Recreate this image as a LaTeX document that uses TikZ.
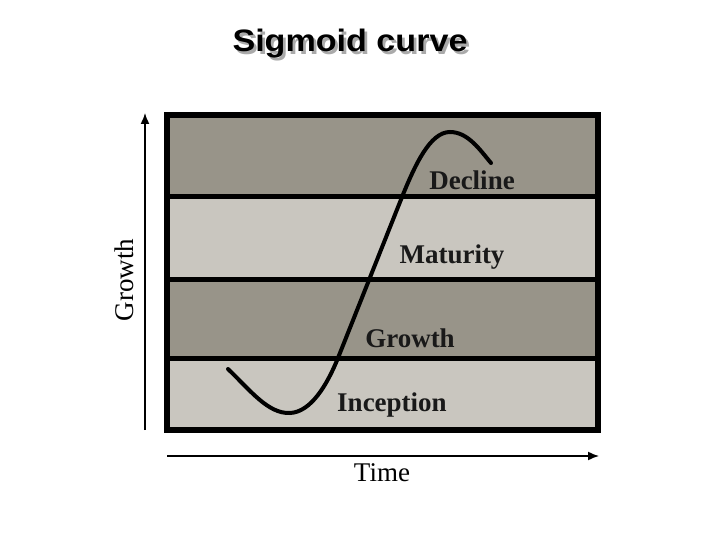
\documentclass[tikz,border=0pt]{standalone}
\usepackage{fontspec}
\setmainfont{Liberation Serif}
\newfontfamily\titlefont{Liberation Sans}
\usetikzlibrary{arrows.meta}
\definecolor{banddark}{RGB}{152,148,137}
\definecolor{bandlight}{RGB}{201,198,191}
\definecolor{shadowgray}{RGB}{170,170,170}
\newcommand{\shadowtext}[1]{\rlap{\hspace{2.5pt}\raisebox{-2.5pt}{\textcolor{shadowgray}{#1}}}#1}
\tikzset{
  axisarrow/.style={line width=1.5pt,-{Latex[length=11pt,width=9pt]}},
  bandlabel/.style={font=\fontsize{27}{29}\selectfont\bfseries, text=black!90, inner sep=0pt},
  axislabel/.style={font=\fontsize{27}{29}\selectfont, inner sep=0pt},
}
\begin{document}
\begin{tikzpicture}[x=1pt,y=-1pt]
\useasboundingbox (0,0) rectangle (720,540);
% title with shadow
\node (title) [font=\titlefont\fontsize{31}{33}\selectfont\bfseries, xscale=1.1, inner sep=0pt] at (350,45) {\shadowtext{Sigmoid curve}};
% bands
\fill[banddark] (167,115) rectangle (598,197);
\fill[bandlight] (167,197) rectangle (598,279);
\fill[banddark] (167,279) rectangle (598,358);
\fill[bandlight] (167,358) rectangle (598,430);
\draw[line width=5pt] (167,197) -- (598,197);
\draw[line width=5pt] (167,279) -- (598,279);
\draw[line width=5pt] (167,358) -- (598,358);
\draw[line width=6pt] (167,115) rectangle (598,430);
% labels
\node (decline) [bandlabel] at (472,180) {Decline};
\node (maturity) [bandlabel] at (452,257) {Maturity};
\node (growth) [bandlabel] at (410,338) {Growth};
\node (inception) [bandlabel] at (392,405) {Inception};
% curve
\draw[line width=4pt, line cap=round]
  (228,369) .. controls (250,390) and (268,414) .. (290,413)
  .. controls (311,412) and (327,385) .. (338,358)
  -- (402,197)
  .. controls (415,165) and (430,132) .. (450,132)
  .. controls (468,132) and (480,150) .. (491,163);
% axes
\coordinate (ybot) at (145,430);
\coordinate (ytop) at (145,113);
\coordinate (xl) at (167,456);
\coordinate (xr) at (599,456);
\draw[axisarrow] (ybot) -- (ytop);
\draw[axisarrow] (xl) -- (xr);
\node (ylab) [axislabel, rotate=90] at (124,280) {Growth};
\node (xlab) [axislabel] at (382,473) {Time};
\end{tikzpicture}
\end{document}
